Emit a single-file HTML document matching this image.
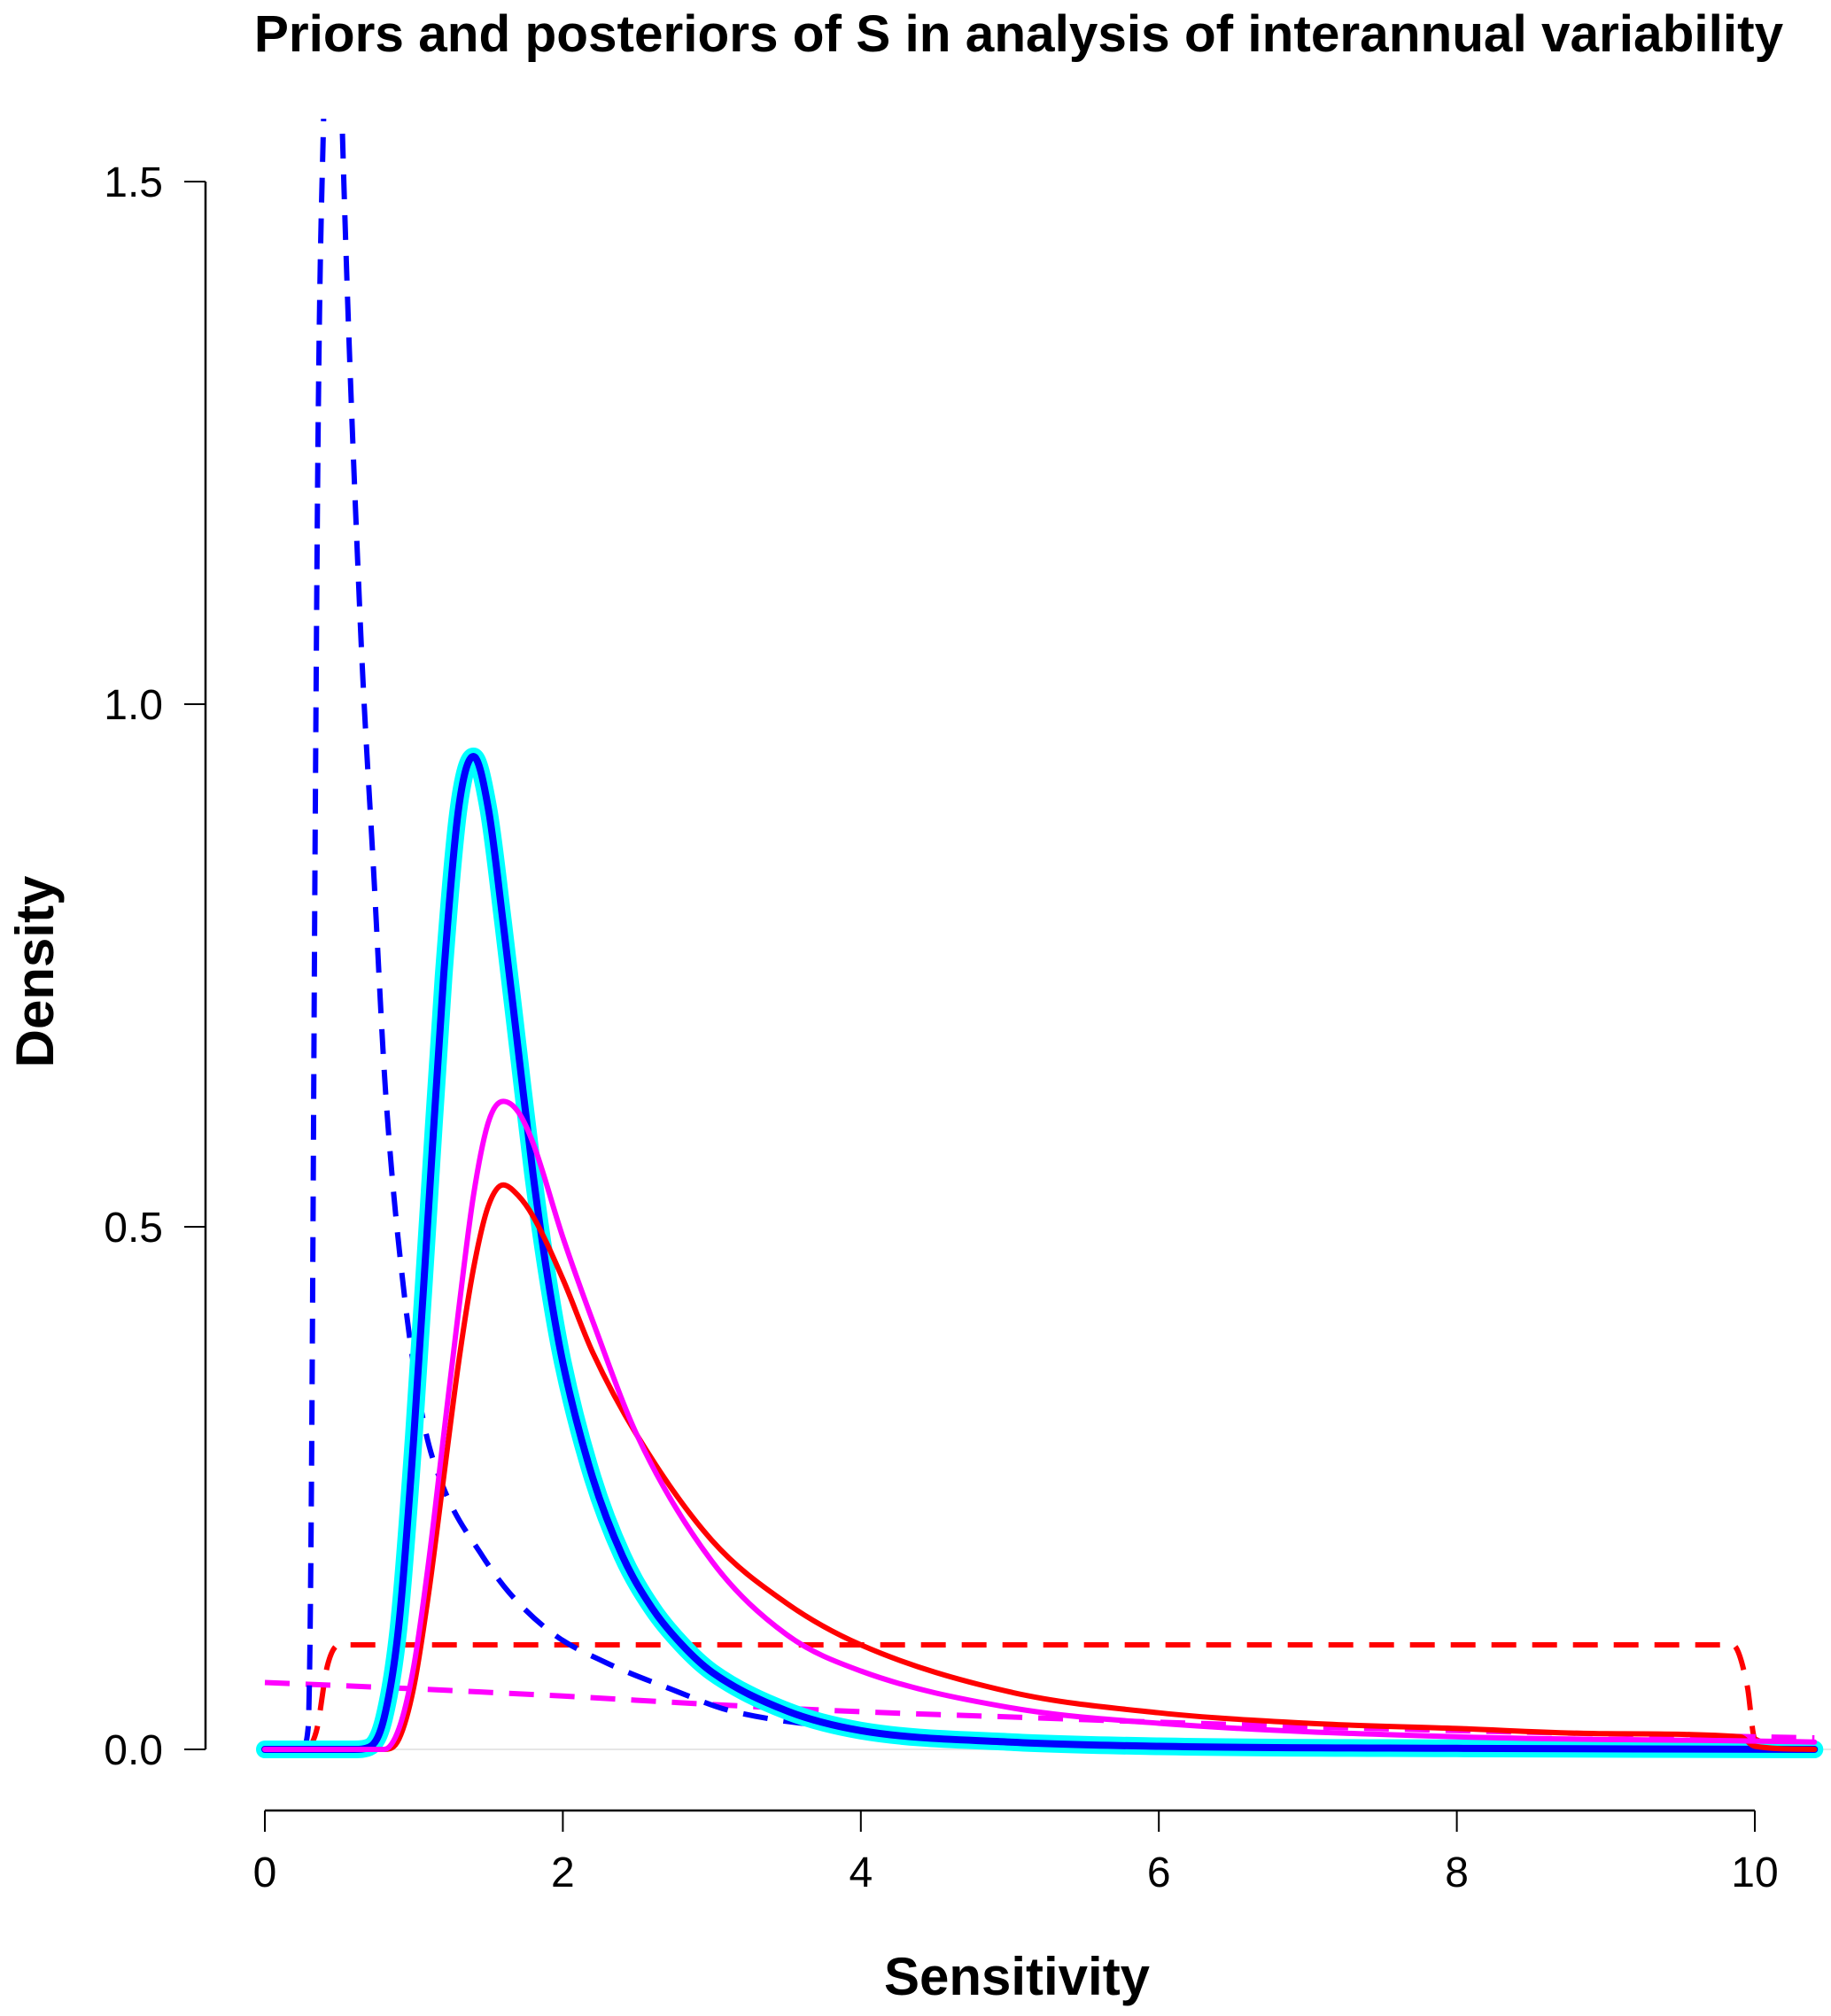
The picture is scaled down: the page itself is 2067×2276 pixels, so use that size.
<!DOCTYPE html>
<html><head><meta charset="utf-8"><style>
html,body{margin:0;padding:0;background:#fff;}
svg{display:block;font-family:"Liberation Sans",Arial,sans-serif;}
</style></head><body>
<svg id="chart" width="2067" height="2276" viewBox="0 0 2067 2276" xmlns="http://www.w3.org/2000/svg">
<defs><clipPath id="plotclip"><rect x="0" y="134" width="2067" height="2000"/></clipPath></defs>
<text x="1150" y="58" text-anchor="middle" font-size="58.5" font-weight="bold">Priors and posteriors of S in analysis of interannual variability</text>
<text x="1148" y="2252" text-anchor="middle" font-size="60" font-weight="bold">Sensitivity</text>
<text transform="translate(60,1097) rotate(-90)" text-anchor="middle" font-size="60" font-weight="bold">Density</text>
<g id="axes"></g>
<g id="series" clip-path="url(#plotclip)"></g>
</svg>
<script>
const xTicks=[0,2,4,6,8,10];
const yTicks=[0.0,0.5,1.0,1.5];
const yTickLabels=["0.0","0.5","1.0","1.5"];
const cyanX=[0,0.6,0.7,0.8,0.9,1.0,1.1,1.2,1.3,1.4,1.5,1.6,1.7,1.8,1.9,2.0,2.2,2.4,2.6,2.8,3.0,3.5,4,5,6,8,10.4];
const cyanY=[0,0,0.002,0.03,0.12,0.3,0.52,0.74,0.9,0.95,0.9,0.79,0.67,0.55,0.45,0.37,0.26,0.185,0.135,0.1,0.074,0.037,0.018,0.007,0.003,0.001,0];
const redX=[0,0.8,0.9,1.0,1.1,1.2,1.3,1.4,1.5,1.6,1.7,1.8,2.0,2.2,2.5,3.0,3.5,4,5,6,7,8,9,9.9,10.0,10.4];
const redY=[0,0,0.01,0.06,0.15,0.26,0.37,0.46,0.52,0.54,0.53,0.51,0.45,0.38,0.3,0.2,0.14,0.1,0.055,0.035,0.025,0.02,0.015,0.012,0.003,0];
const magX=[0,0.8,0.9,1.0,1.1,1.2,1.3,1.4,1.5,1.6,1.7,1.8,2.0,2.2,2.5,3.0,3.5,4,5,6,8,10,10.4];
const magY=[0,0,0.02,0.08,0.18,0.3,0.42,0.53,0.6,0.62,0.61,0.58,0.49,0.41,0.3,0.18,0.11,0.075,0.04,0.025,0.012,0.008,0.007];
const redPriorX=[0.3,0.35,0.42,0.5,9.85,9.95,10.0,10.4];
const redPriorY=[0,0.02,0.08,0.1,0.1,0.06,0.01,0];
const magPriorX=[0,1,2,3,4,5,6,8,10,10.4];
const magPriorY=[0.064,0.058,0.051,0.043,0.036,0.031,0.026,0.018,0.012,0.011];
const bluePriorX=[0.25,0.29,0.31,0.34,0.36,0.40,0.45,0.51,0.64,0.73,0.81,0.94,1.07,1.2,1.46,1.64,1.94,2.29,2.72,3.15,4.3,6.9,10.4];
const bluePriorY=[0,0.02,0.2,0.93,1.3,1.6,2.0,1.6,1.08,0.84,0.63,0.43,0.31,0.25,0.185,0.15,0.11,0.083,0.058,0.036,0.017,0.005,0.001];

const NS="http://www.w3.org/2000/svg";
const X=v=>299+v*168.2;
const Y=v=>1975-v*1180;
const axes=document.getElementById('axes'), ser=document.getElementById('series');
function mk(tag,attrs,parent){const e=document.createElementNS(NS,tag);for(const k in attrs)e.setAttribute(k,attrs[k]);parent.appendChild(e);return e;}
let bl=mk('line',{x1:299,x2:2067,y1:Y(0),y2:Y(0),stroke:'#e6e6e6','stroke-width':2},axes);


let xa=mk('line',{x1:X(0),x2:X(10),y1:2044,y2:2044,stroke:'#000','stroke-width':2.5},axes);


xTicks.forEach(t=>{
  let l=mk('line',{x1:X(t),x2:X(t),y1:2044,y2:2068,stroke:'#000','stroke-width':2},axes);
  
  
  let tx=mk('text',{x:X(t),y:2130,'text-anchor':'middle','font-size':48},axes);
  tx.textContent=String(t);
  
  
});
let ya=mk('line',{x1:232,x2:232,y1:Y(0),y2:Y(1.5),stroke:'#000','stroke-width':2.5},axes);


yTicks.forEach((t,i)=>{
  let l=mk('line',{x1:208,x2:232,y1:Y(t),y2:Y(t),stroke:'#000','stroke-width':2},axes);
  
  
  let tx=mk('text',{x:184,y:Y(t)+17,'text-anchor':'end','font-size':48},axes);
  tx.textContent=yTickLabels[i];
  
  
});
function smoothPath(xs,ys){
  const px=xs.map(X), py=ys.map(Y), n=px.length;
  const d=[],m=[];
  for(let i=0;i<n-1;i++)d.push((py[i+1]-py[i])/(px[i+1]-px[i]));
  for(let i=0;i<n;i++){
    if(i===0)m.push(d[0]);else if(i===n-1)m.push(d[n-2]);
    else m.push(d[i-1]*d[i]<=0?0:(d[i-1]+d[i])/2);
  }
  for(let i=0;i<n-1;i++){
    if(d[i]===0){m[i]=0;m[i+1]=0;continue;}
    const a=m[i]/d[i],b=m[i+1]/d[i],s=a*a+b*b;
    if(s>9){const t=3/Math.sqrt(s);m[i]=t*a*d[i];m[i+1]=t*b*d[i];}
  }
  let p='M'+px[0].toFixed(1)+','+py[0].toFixed(1);
  for(let i=0;i<n-1;i++){
    const h=(px[i+1]-px[i])/3;
    p+=' C'+(px[i]+h).toFixed(1)+','+(py[i]+m[i]*h).toFixed(1)+' '+(px[i+1]-h).toFixed(1)+','+(py[i+1]-m[i+1]*h).toFixed(1)+' '+px[i+1].toFixed(1)+','+py[i+1].toFixed(1);
  }
  return p;
}
function line(xs,ys,color,w,dash,name){
  const p=mk('path',{d:smoothPath(xs,ys),fill:'none',stroke:color,'stroke-width':w,'stroke-linejoin':'round','stroke-linecap':dash?'butt':'round'},ser);
  if(dash)p.setAttribute('stroke-dasharray',dash);
  
  
}
line(redPriorX,redPriorY,'#ff0000',6,'28,18','red-prior-dashed');
line(magPriorX,magPriorY,'#ff00ff',6,'28,18','magenta-prior-dashed');
line(bluePriorX,bluePriorY,'#0000ff',6,'28,18','blue-prior-dashed');
line(cyanX,cyanY,'#00ffff',20,null,'cyan-posterior');
line(cyanX,cyanY,'#0000ff',8,null,'blue-posterior');
line(redX,redY,'#ff0000',6,null,'red-posterior');
line(magX,magY,'#ff00ff',6,null,'magenta-posterior');
</script>
</body></html>
